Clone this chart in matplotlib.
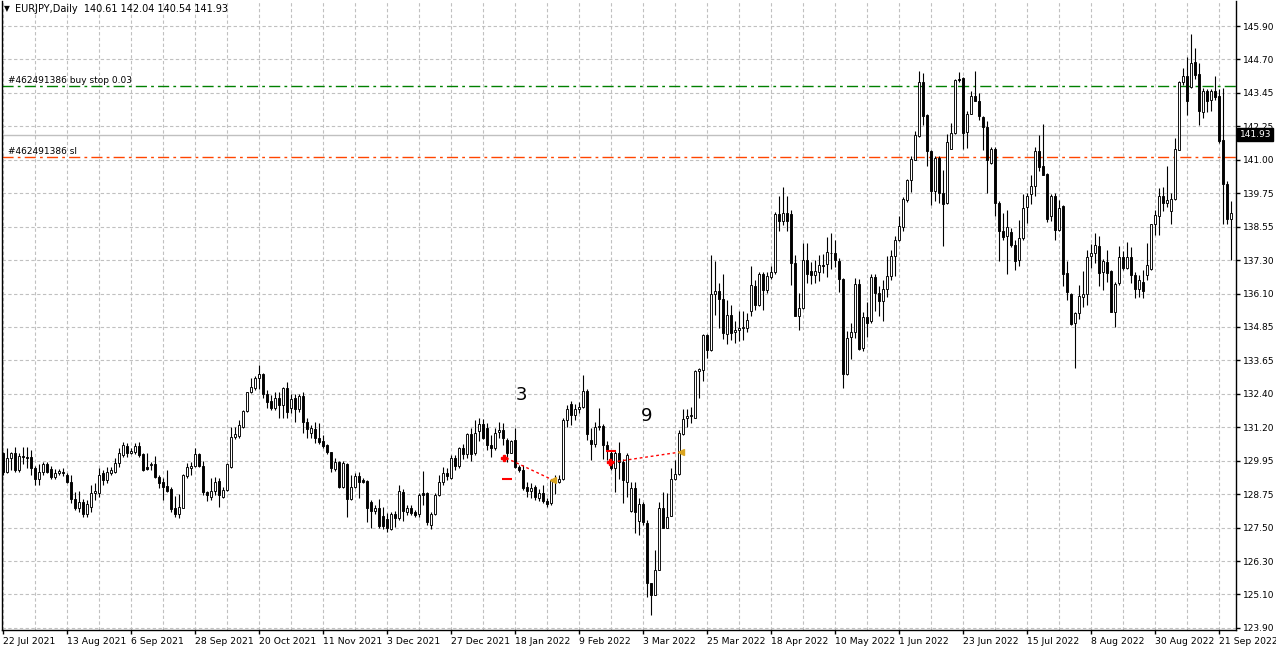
import matplotlib
matplotlib.use("Agg")
import matplotlib.pyplot as plt
import numpy as np

# дневные свечи EURJPY (22 Jul 2021 ... Sep 2022)
opens = [
    130.28, 129.61, 130.10, 130.28, 129.69, 130.18, 130.15, 130.13, 129.73, 129.33,
    129.61, 129.89, 129.70, 129.43, 129.55, 129.60, 129.50, 129.24, 128.63, 128.27,
    128.51, 128.06, 128.33, 128.82, 128.82, 129.55, 129.30, 129.55, 129.61, 129.91,
    130.22, 130.55, 130.30, 130.34, 130.56, 130.25, 129.77, 129.85, 129.89, 129.43,
    129.24, 129.08, 128.97, 128.29, 128.05, 128.29, 129.46, 129.76, 129.83, 130.26,
    129.82, 128.85, 128.70, 128.90, 129.27, 128.70, 128.94, 129.77, 130.87, 130.93,
    131.26, 131.83, 132.51, 132.68, 133.03, 133.17, 132.44, 132.20, 131.95, 132.32,
    132.05, 132.66, 131.93, 132.29, 131.90, 132.39, 131.42, 131.01, 131.17, 130.83,
    130.73, 130.59, 130.32, 129.70, 129.95, 129.06, 129.88, 128.60, 129.04, 129.46,
    129.30, 129.27, 128.51, 128.17, 128.27, 128.00, 127.88, 127.51, 128.05, 127.90,
    128.88, 128.15, 128.27, 128.12, 128.05, 128.82, 128.82, 127.66, 128.08, 128.76,
    129.22, 129.55, 129.39, 130.12, 129.83, 130.49, 130.24, 130.98, 130.28, 131.10,
    131.34, 131.22, 130.60, 130.46, 131.05, 131.13, 130.76, 130.31, 130.77, 129.77,
    129.67, 129.06, 128.90, 129.06, 128.66, 128.84, 128.53, 128.45, 129.30, 129.24,
    129.34, 131.50, 132.10, 131.68, 131.90, 131.98, 132.56, 130.76, 130.61, 131.25,
    131.27, 130.58, 130.31, 129.73, 130.28, 129.97, 129.25, 128.19, 129.00, 127.82,
    128.43, 127.72, 125.56, 125.10, 126.00, 128.27, 127.56, 128.00, 129.35, 129.52,
    130.98, 131.57, 131.65, 131.59, 133.30, 133.34, 134.59, 134.07, 136.10, 136.23,
    135.93, 134.64, 135.35, 134.71, 134.79, 134.86, 134.86, 135.47, 136.41, 135.71,
    136.85, 136.26, 136.71, 136.91, 139.03, 138.76, 139.07, 139.03, 137.24, 135.29,
    135.59, 137.36, 136.93, 136.79, 136.91, 137.18, 137.20, 137.60, 137.60, 137.32,
    136.66, 133.17, 134.53, 134.71, 136.47, 134.13, 135.25, 135.13, 136.72, 136.14,
    135.85, 136.30, 136.75, 137.48, 138.09, 138.56, 139.53, 140.26, 140.99, 141.87,
    143.85, 142.63, 141.33, 139.86, 141.08, 139.80, 139.43, 141.41, 142.00, 143.97,
    144.01, 142.02, 142.70, 143.36, 143.16, 142.58, 142.22, 140.90, 141.39, 139.43,
    138.40, 138.21, 138.37, 137.90, 137.35, 138.15, 139.27, 139.76, 140.04, 141.34,
    140.77, 140.49, 138.94, 139.70, 138.45, 139.31, 136.87, 136.10, 135.03, 135.40,
    136.01, 136.10, 137.51, 137.60, 137.87, 136.90, 137.29, 136.93, 135.46, 136.50,
    137.47, 137.05, 137.46, 136.80, 136.30, 136.55, 136.81, 137.03, 138.66, 138.97,
    139.70, 139.43, 139.13, 139.59, 141.38, 143.86, 144.09, 143.67, 144.59, 144.15,
    142.76, 143.54, 143.18, 143.54, 143.36, 141.75, 140.13, 138.85,
]
highs = [
    130.34, 130.46, 130.34, 130.52, 130.30, 130.52, 130.50, 130.40, 129.80, 129.90,
    129.97, 129.97, 129.80, 129.70, 129.70, 129.73, 129.55, 129.48, 128.88, 128.90,
    128.60, 128.57, 129.12, 129.18, 129.73, 129.67, 129.79, 129.79, 130.10, 130.46,
    130.70, 130.65, 130.46, 130.65, 130.68, 130.30, 130.28, 129.97, 130.18, 129.49,
    129.37, 129.67, 129.06, 128.73, 128.78, 129.51, 129.91, 129.95, 130.46, 130.28,
    130.00, 128.90, 129.37, 129.43, 129.39, 129.06, 129.91, 131.26, 131.26, 131.50,
    131.87, 132.54, 133.03, 133.12, 133.51, 133.21, 132.60, 132.42, 132.54, 132.51,
    132.72, 132.90, 132.44, 132.44, 132.44, 132.54, 131.59, 131.30, 131.44, 131.38,
    130.95, 130.61, 130.34, 130.10, 130.00, 130.00, 129.91, 129.49, 129.55, 129.59,
    129.39, 129.30, 128.57, 128.39, 128.60, 128.33, 128.10, 128.12, 128.17, 129.12,
    128.98, 128.39, 128.39, 128.20, 128.82, 129.63, 128.85, 128.14, 128.82, 129.49,
    129.79, 129.73, 130.22, 130.22, 130.53, 130.61, 131.01, 131.20, 131.50, 131.59,
    131.54, 131.38, 130.95, 131.20, 131.42, 131.40, 130.83, 130.77, 131.19, 129.85,
    129.85, 129.24, 129.18, 129.12, 128.97, 129.14, 128.66, 129.36, 129.48, 129.48,
    131.56, 132.05, 132.19, 132.07, 132.17, 133.14, 132.63, 131.22, 131.44, 131.92,
    131.34, 130.73, 130.40, 130.40, 130.70, 130.07, 130.28, 129.22, 129.22, 128.64,
    128.52, 127.85, 125.56, 126.75, 128.49, 128.88, 128.82, 129.74, 130.04, 131.14,
    131.91, 131.91, 131.99, 133.34, 133.40, 134.64, 134.64, 137.54, 137.32, 136.51,
    136.84, 135.90, 135.69, 135.13, 135.49, 135.49, 135.41, 137.14, 136.63, 136.91,
    136.91, 136.91, 137.12, 139.10, 139.68, 140.01, 139.68, 139.19, 137.54, 136.14,
    137.97, 137.97, 137.27, 137.36, 137.54, 137.57, 138.18, 138.34, 138.09, 137.42,
    136.69, 134.74, 135.04, 136.69, 136.66, 135.44, 135.81, 136.83, 136.83, 136.40,
    136.60, 137.48, 137.70, 138.24, 138.97, 139.65, 140.31, 141.14, 142.06, 144.25,
    144.19, 142.67, 141.36, 141.14, 141.14, 140.62, 141.97, 142.36, 143.97, 144.22,
    144.05, 142.79, 143.52, 144.25, 143.46, 142.61, 142.42, 141.48, 141.48, 139.50,
    139.07, 139.18, 138.51, 138.09, 138.82, 139.76, 139.79, 140.46, 141.46, 141.93,
    142.32, 140.52, 139.76, 139.79, 139.55, 139.34, 137.32, 136.13, 135.46, 136.44,
    136.93, 137.72, 137.93, 138.33, 138.21, 137.39, 137.72, 136.99, 136.56, 137.87,
    137.66, 138.02, 137.81, 136.90, 136.80, 137.00, 137.97, 138.66, 139.19, 139.98,
    140.01, 140.77, 139.80, 141.79, 143.89, 144.35, 144.76, 145.62, 145.11, 144.56,
    143.64, 143.58, 143.58, 144.07, 143.58, 143.64, 140.25, 139.49,
]
lows = [
    129.49, 129.55, 129.67, 129.60, 129.60, 129.90, 129.73, 129.50, 129.12, 129.12,
    129.50, 129.55, 129.33, 129.36, 129.50, 129.45, 129.18, 128.45, 128.20, 128.15,
    127.96, 127.94, 128.15, 128.57, 128.70, 129.12, 129.18, 129.50, 129.55, 129.79,
    130.16, 130.16, 130.24, 130.24, 130.16, 129.63, 129.67, 129.67, 129.39, 129.02,
    128.57, 128.88, 128.12, 127.96, 127.93, 128.27, 129.39, 129.49, 129.79, 129.79,
    128.76, 128.54, 128.57, 128.76, 128.33, 128.64, 128.90, 129.73, 130.81, 130.83,
    131.22, 131.81, 132.48, 132.60, 132.64, 132.29, 131.93, 131.87, 131.87, 131.56,
    131.59, 131.56, 131.75, 131.44, 131.81, 131.01, 130.85, 130.83, 130.65, 130.61,
    130.49, 130.24, 129.59, 129.63, 129.02, 129.02, 127.96, 128.57, 129.00, 128.66,
    129.20, 127.78, 127.54, 128.05, 127.56, 127.51, 127.39, 127.47, 127.60, 127.84,
    127.80, 128.02, 128.02, 127.96, 127.96, 128.39, 127.66, 127.51, 128.02, 128.73,
    129.12, 129.30, 129.34, 129.67, 129.73, 130.07, 130.10, 130.00, 130.22, 130.73,
    130.80, 130.40, 130.16, 130.40, 130.83, 130.60, 129.97, 130.28, 129.73, 129.60,
    128.94, 128.69, 128.66, 128.57, 128.53, 128.48, 128.33, 128.39, 128.81, 129.18,
    129.30, 131.25, 131.31, 131.50, 131.74, 131.92, 130.76, 130.03, 130.52, 131.13,
    130.09, 130.03, 129.67, 128.87, 129.36, 128.45, 128.70, 128.15, 127.36, 127.30,
    127.66, 125.04, 124.39, 125.10, 126.00, 127.54, 127.54, 128.00, 129.31, 129.49,
    130.96, 131.26, 131.38, 131.57, 132.32, 132.93, 133.76, 134.03, 135.32, 134.88,
    134.47, 134.27, 134.43, 134.31, 134.40, 134.43, 134.71, 135.29, 135.53, 135.65,
    135.53, 136.14, 136.66, 136.83, 138.40, 138.64, 138.40, 136.44, 135.29, 134.80,
    135.57, 136.50, 136.47, 136.50, 136.59, 136.87, 136.71, 137.03, 137.08, 136.17,
    132.66, 133.13, 133.74, 134.49, 134.07, 134.03, 134.55, 135.04, 135.47, 135.30,
    135.10, 136.00, 136.60, 136.77, 138.03, 138.40, 139.46, 139.82, 140.99, 141.85,
    142.30, 140.78, 139.37, 139.50, 139.43, 137.85, 139.41, 141.39, 141.97, 143.85,
    141.39, 141.45, 142.67, 143.16, 142.46, 141.36, 139.80, 140.87, 138.95, 137.30,
    138.09, 136.83, 137.84, 136.99, 137.11, 138.09, 138.69, 139.39, 139.67, 140.61,
    140.44, 138.73, 138.76, 138.09, 138.39, 136.38, 135.89, 134.97, 133.39, 135.19,
    135.64, 135.70, 137.05, 137.23, 136.38, 136.26, 136.56, 135.46, 134.91, 136.44,
    136.99, 137.02, 136.50, 135.95, 136.00, 135.95, 136.60, 136.99, 138.25, 138.25,
    139.13, 139.27, 138.66, 139.55, 141.35, 143.74, 142.64, 143.64, 143.98, 142.28,
    142.52, 142.76, 142.79, 143.18, 141.63, 138.66, 138.66, 137.36,
]
closes = [
    129.61, 130.10, 130.28, 129.67, 130.18, 130.15, 130.12, 129.73, 129.33, 129.61,
    129.89, 129.61, 129.40, 129.57, 129.62, 129.57, 129.24, 128.63, 128.27, 128.51,
    128.08, 128.43, 128.84, 128.90, 129.49, 129.30, 129.61, 129.67, 129.91, 130.28,
    130.58, 130.28, 130.38, 130.56, 130.22, 129.67, 129.71, 129.88, 129.43, 129.21,
    129.06, 128.90, 128.24, 128.05, 128.33, 129.49, 129.77, 129.83, 130.26, 129.83,
    128.85, 128.76, 128.90, 129.24, 128.76, 128.94, 129.89, 130.87, 130.99, 131.32,
    131.83, 132.51, 132.72, 133.03, 133.17, 132.44, 132.15, 131.95, 132.32, 132.03,
    132.66, 131.78, 132.27, 131.90, 132.39, 131.42, 131.17, 131.20, 130.83, 130.71,
    130.56, 130.32, 129.73, 129.95, 129.06, 129.91, 128.60, 129.04, 129.46, 129.24,
    129.24, 128.27, 128.17, 128.27, 127.63, 127.63, 127.56, 128.05, 127.93, 128.90,
    128.17, 128.27, 128.09, 128.02, 128.76, 128.76, 127.76, 128.08, 128.76, 129.22,
    129.55, 129.46, 130.12, 129.83, 130.46, 130.24, 130.98, 130.24, 131.01, 131.34,
    130.85, 130.60, 130.46, 131.01, 131.13, 130.85, 130.31, 130.73, 129.79, 129.67,
    129.02, 128.90, 129.02, 128.69, 128.84, 128.53, 128.44, 129.30, 129.24, 129.34,
    131.50, 131.90, 131.68, 131.90, 131.98, 132.56, 130.97, 130.61, 131.25, 131.27,
    130.58, 130.40, 129.73, 130.28, 129.95, 129.30, 130.22, 129.00, 128.15, 128.43,
    127.76, 125.53, 125.12, 126.00, 128.27, 127.56, 127.97, 129.35, 129.52, 131.02,
    131.54, 131.65, 131.67, 133.30, 133.38, 134.59, 134.07, 136.10, 136.23, 135.93,
    134.68, 135.35, 134.68, 134.80, 134.86, 134.90, 135.15, 136.45, 135.71, 136.85,
    136.26, 136.77, 136.91, 139.03, 138.76, 139.07, 138.79, 137.24, 135.29, 135.59,
    137.36, 136.85, 136.79, 136.93, 137.15, 137.12, 137.64, 137.62, 137.36, 136.66,
    133.17, 134.49, 134.71, 136.47, 134.10, 135.25, 135.04, 136.72, 136.14, 135.85,
    136.30, 136.75, 137.50, 138.09, 138.58, 139.56, 140.26, 141.04, 141.90, 143.85,
    142.60, 141.33, 139.86, 141.08, 139.80, 139.41, 141.65, 142.00, 143.92, 143.92,
    142.00, 142.70, 143.36, 143.16, 142.61, 142.22, 141.02, 141.39, 139.43, 138.40,
    138.19, 138.54, 137.90, 137.32, 138.15, 139.24, 139.67, 140.07, 141.34, 140.73,
    140.46, 138.85, 139.67, 138.45, 139.24, 136.83, 136.19, 135.00, 135.40, 136.03,
    136.11, 137.44, 137.62, 137.90, 136.87, 137.32, 136.87, 135.46, 136.46, 137.44,
    137.05, 137.47, 136.80, 136.30, 136.60, 136.20, 137.18, 138.66, 138.98, 139.70,
    139.43, 139.55, 139.59, 141.42, 143.86, 144.09, 143.15, 144.56, 144.10, 142.79,
    143.54, 143.15, 143.54, 143.30, 141.71, 140.13, 138.85, 139.07,
]

date_labels = ['22 Jul 2021', '13 Aug 2021', '6 Sep 2021', '28 Sep 2021', '20 Oct 2021',
               '11 Nov 2021', '3 Dec 2021', '27 Dec 2021', '18 Jan 2022', '9 Feb 2022',
               '3 Mar 2022', '25 Mar 2022', '18 Apr 2022', '10 May 2022', '1 Jun 2022',
               '23 Jun 2022', '15 Jul 2022', '8 Aug 2022', '30 Aug 2022', '21 Sep 2022']
price_labels = ['145.90', '144.70', '143.45', '142.25', '141.00', '139.75', '138.55',
                '137.30', '136.10', '134.85', '133.65', '132.40', '131.20', '129.95',
                '128.75', '127.50', '126.30', '125.10', '123.90']

bid = 141.93
buy_stop = 143.71
stop_loss = 141.10
header = 'EURJPY,Daily  140.61 142.04 140.54 141.93'

# сделки: (бар, цена) открытия и закрытия
trade_open = [(125.3, 130.11), (151.8, 129.96)]
trade_close = [(137.4, 129.31), (169.4, 130.33)]
trade_mark = [(126.0, 129.34), (152.1, 130.37)]
counts = [('3', 129.7, 132.41), ('9', 161.0, 131.65)]

o = np.array(opens)
h = np.array(highs)
l = np.array(lows)
c = np.array(closes)
idx = np.arange(len(c))

fig = plt.figure(figsize=(12.76, 6.51), dpi=100)
ax = fig.add_axes([2 / 1276, 21 / 651, 1234 / 1276, 629 / 651])

# свечи
ax.vlines(idx, l, h, color='black', lw=0.8, zorder=3)
up = c >= o
body = np.maximum(np.abs(c - o), 0.015)
ax.bar(idx, body, bottom=np.minimum(o, c), width=0.5,
       color=np.where(up, 'white', 'black'), edgecolor='black',
       linewidth=0.65, zorder=4)

# сетка
grid_levels = np.linspace(123.9, 145.9, len(price_labels))[::-1]
ax.set_yticks(grid_levels)
ax.set_yticklabels(price_labels)
ax.set_xticks(np.arange(len(date_labels)) * 16)
ax.set_xticklabels(date_labels, ha='left')
ax.set_xticks(np.arange(8, 310, 16), minor=True)
ax.grid(True, which='both', color='#C0C0C0', linestyle=(0, (3, 2.2)), lw=0.8, zorder=0)

ax.set_xlim(-0.25, 308.25)
ax.set_ylim(123.824, 146.814)

ax.yaxis.tick_right()
ax.tick_params(axis='y', which='major', length=3, width=1, pad=2, labelsize=6.5)
ax.tick_params(axis='x', which='major', length=3, width=1, pad=2, labelsize=6.7)
ax.tick_params(axis='x', which='minor', length=0)
ax.spines['top'].set_visible(False)
for s in ['left', 'right', 'bottom']:
    ax.spines[s].set_linewidth(1)

# уровни ордеров
ax.axhline(bid, color='#C0C0C0', lw=1, zorder=1)
ax.axhline(buy_stop, color='#008000', lw=1, linestyle=(0, (8, 3, 2, 3)), zorder=2)
ax.axhline(stop_loss, color='#FF4500', lw=1, linestyle=(0, (8, 3, 2, 3)), zorder=2)
ax.text(1.3, buy_stop + 0.2, '#462491386 buy stop 0.03', fontsize=6.5, va='center')
ax.text(1.3, stop_loss + 0.22, '#462491386 sl', fontsize=6.5, va='center')

ax.annotate(f'{bid:.2f}', xy=(1.0, bid), xycoords=('axes fraction', 'data'),
            xytext=(2.5, 0), textcoords='offset points', va='center', ha='left',
            fontsize=6.5, color='white', zorder=10,
            bbox=dict(boxstyle='square,pad=0.25', fc='black', ec='black'))

# сделки
for (x0, y0), (x1, y1) in zip(trade_open, trade_close):
    ax.plot([x0 + 0.5, x1], [y0, y1], color='red', lw=1, linestyle=(0, (2, 2)), zorder=5)
    ax.plot(x0, y0, marker='P', color='red', ms=5, zorder=6)
    ax.plot(x1, y1, marker='<', color='#DAA520', ms=5, zorder=6)
for x0, y0 in trade_mark:
    ax.plot(x0, y0, marker='_', color='red', ms=7, mew=1.5, zorder=6)
for t, x0, y0 in counts:
    ax.text(x0, y0, t, fontsize=13, ha='center', va='center', zorder=6)

fig.text(4 / 1276, 1 - 9 / 651, '\u25bc', fontsize=5.5, va='center')
fig.text(15 / 1276, 1 - 9 / 651, header, fontsize=7, va='center')

fig.savefig('out.png', dpi=100)
